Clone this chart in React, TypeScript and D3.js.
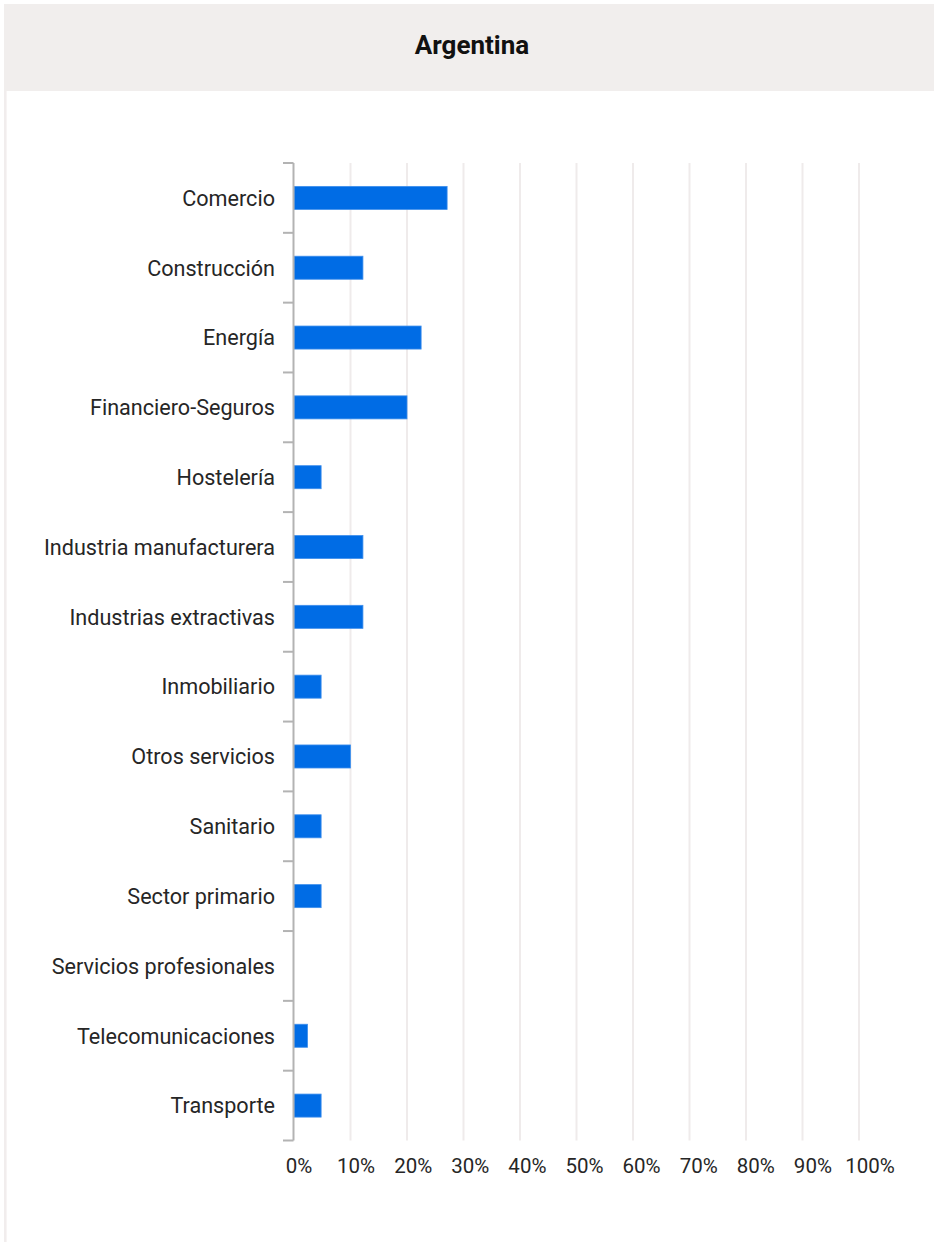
import React from "react";
import * as d3 from "d3";

const title = "Argentina";
const categories = [
  "Comercio",
  "Construcción",
  "Energía",
  "Financiero-Seguros",
  "Hostelería",
  "Industria manufacturera",
  "Industrias extractivas",
  "Inmobiliario",
  "Otros servicios",
  "Sanitario",
  "Sector primario",
  "Servicios profesionales",
  "Telecomunicaciones",
  "Transporte",
];
const values = [27.1, 12.2, 22.5, 20.0, 4.8, 12.2, 12.2, 4.8, 10.0, 4.8, 4.8, 0, 2.4, 4.8];
const xTicks = [0, 10, 20, 30, 40, 50, 60, 70, 80, 90, 100];

const W = 934;
const H = 1242;
const plot = { left: 294, right: 859, top: 163, bottom: 1140.5 };
const FONT = "Roboto, 'Noto Sans', sans-serif";

export default function App() {
  const x = d3.scaleLinear().domain([0, 100]).range([plot.left, plot.right]);
  const xLab = d3.scaleLinear().domain([0, 100]).range([plot.left + 5, plot.right + 11]);
  const y = d3.scaleBand<string>().domain(categories).range([plot.top, plot.bottom]).padding(0);
  const bw = y.bandwidth();
  const barH = bw * 0.33;
  const boundaries = d3.range(categories.length + 1).map((i) => plot.top + i * y.step());

  return (
    <svg
      width={W}
      height={H}
      style={{ position: "absolute", left: 0, top: 0, display: "block", background: "#fff" }}
      fontFamily={FONT}
    >
      <rect x={4} y={4} width={W - 4} height={87} fill="#f1eeed" />
      <line x1={5.3} x2={5.3} y1={91} y2={H} stroke="#f1eded" strokeWidth={2.6} />
      <text x={472} y={54} textAnchor="middle" fontSize={26} fontWeight={700} fill="#111">
        {title}
      </text>

      {xTicks.filter((t) => t > 0).map((t) => (
        <line key={"g" + t} x1={x(t)} x2={x(t)} y1={plot.top} y2={plot.bottom} stroke="#efebeb" strokeWidth={2} />
      ))}

      {categories.map((c, i) => (
        <rect
          key={c}
          x={x(0)}
          y={(y(c) as number) + (bw - barH) / 2}
          width={x(values[i]) - x(0)}
          height={barH}
          fill="#006ce5"
          stroke="#3f8fec"
          strokeWidth={values[i] > 0 ? 0.8 : 0}
        />
      ))}

      <line x1={293.5} x2={293.5} y1={plot.top} y2={plot.bottom} stroke="#b3b3b3" strokeWidth={2} />
      {boundaries.map((b, i) => (
        <line key={"t" + i} x1={283} x2={293.5} y1={b} y2={b} stroke="#b3b3b3" strokeWidth={2} />
      ))}

      {categories.map((c) => (
        <text
          key={"l" + c}
          x={275}
          y={(y(c) as number) + bw / 2}
          dy="0.36em"
          textAnchor="end"
          fontSize={21.6}
          fill="#262626"
        >
          {c}
        </text>
      ))}

      {xTicks.map((t) => (
        <text key={"x" + t} x={xLab(t)} y={1172.5} textAnchor="middle" fontSize={20.5} fill="#262626">
          {t + "%"}
        </text>
      ))}
    </svg>
  );
}
